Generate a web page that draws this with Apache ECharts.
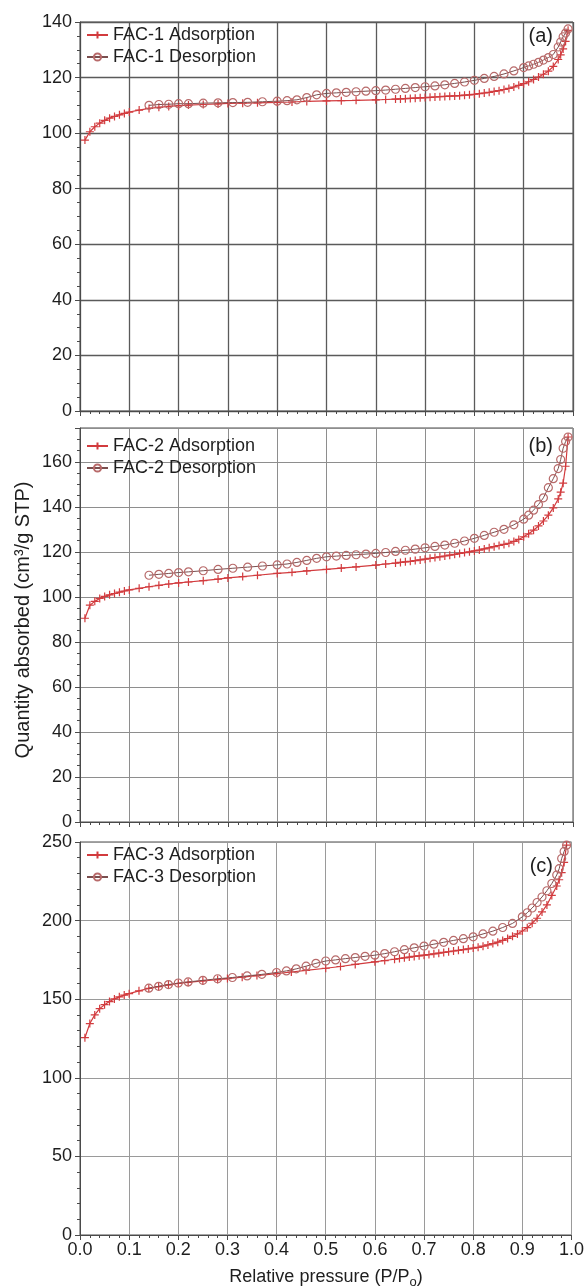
<!DOCTYPE html>
<html>
<head>
<meta charset="utf-8">
<script src="https://cdn.jsdelivr.net/npm/echarts@6/dist/echarts.min.js"></script>
<style>
  html, body { margin: 0; padding: 0; background: #ffffff; }
  #chart { width: 587px; height: 1287px; }
</style>
</head>
<body>
<div id="chart"></div>
<script>
// Relative pressures (P/Po) of the adsorption branch
const adsP = [0.01, 0.02, 0.03, 0.04, 0.05, 0.06, 0.07, 0.08, 0.09, 0.10,
  0.12, 0.14, 0.16, 0.18, 0.20, 0.22, 0.25, 0.28, 0.30, 0.33,
  0.36, 0.40, 0.43, 0.46, 0.50, 0.53, 0.56, 0.60, 0.62, 0.64,
  0.65, 0.66, 0.67, 0.68, 0.69, 0.70, 0.71, 0.72, 0.73, 0.74,
  0.75, 0.76, 0.77, 0.78, 0.79, 0.80, 0.81, 0.82, 0.83, 0.84,
  0.85, 0.86, 0.87, 0.88, 0.89, 0.90, 0.91, 0.92, 0.93, 0.94,
  0.95, 0.96, 0.97, 0.975, 0.98, 0.985, 0.99];

// Quantity adsorbed (cm3/g STP), adsorption branch
const adsFAC1 = [97.5, 100.5, 102.3, 103.6, 104.6, 105.4, 106.0, 106.6, 107.1, 107.6,
  108.3, 108.9, 109.3, 109.6, 109.9, 110.1, 110.3, 110.5, 110.7, 110.8,
  110.9, 111.1, 111.2, 111.4, 111.6, 111.7, 111.8, 112.0, 112.1, 112.25,
  112.3, 112.4, 112.5, 112.6, 112.7, 112.8, 112.9, 113.0, 113.1, 113.2,
  113.3, 113.4, 113.5, 113.65, 113.8, 114.0, 114.2, 114.45, 114.7, 115.0,
  115.3, 115.7, 116.1, 116.6, 117.2, 117.8, 118.5, 119.3, 120.2, 121.2,
  122.3, 124.0, 126.5, 128.2, 130.3, 133.0, 137.0];
const adsFAC2 = [90.5, 96.3, 98.0, 99.3, 100.2, 100.9, 101.5, 102.1, 102.6, 103.1,
  103.8, 104.5, 105.1, 105.7, 106.2, 106.6, 107.2, 107.9, 108.4, 109.0,
  109.6, 110.4, 110.9, 111.5, 112.2, 112.8, 113.3, 114.1, 114.6, 115.0,
  115.3, 115.55, 115.8, 116.1, 116.4, 116.75, 117.1, 117.45, 117.8, 118.15,
  118.5, 118.9, 119.3, 119.65, 120.0, 120.4, 120.8, 121.3, 121.8, 122.3,
  122.8, 123.3, 123.8, 124.6, 125.5, 126.7, 128.0, 129.6, 131.5, 133.7,
  136.3, 139.5, 143.5, 146.5, 150.5, 158.0, 171.0];
const adsFAC3 = [125.5, 134.5, 140.0, 144.0, 146.5, 148.5, 150.2, 151.5, 152.6, 153.5,
  155.3, 156.9, 158.0, 159.1, 160.0, 160.7, 161.6, 162.5, 163.1, 164.0,
  165.0, 166.3, 167.3, 168.3, 169.7, 170.8, 172.1, 173.8, 174.6, 175.4,
  175.9, 176.35, 176.8, 177.2, 177.6, 178.0, 178.4, 178.85, 179.3, 179.75,
  180.2, 180.65, 181.1, 181.55, 182.0, 182.5, 183.0, 183.7, 184.5, 185.4,
  186.3, 187.4, 188.6, 190.0, 191.5, 193.4, 195.5, 198.3, 201.5, 205.5,
  210.0, 216.0, 222.0, 226.0, 230.5, 237.0, 248.0];

// Relative pressures (P/Po) of the desorption branch
const desP = [0.14, 0.16, 0.18, 0.20, 0.22, 0.25, 0.28, 0.31, 0.34, 0.37,
  0.40, 0.42, 0.44, 0.46, 0.48, 0.50, 0.52, 0.54, 0.56, 0.58,
  0.60, 0.62, 0.64, 0.66, 0.68, 0.70, 0.72, 0.74, 0.76, 0.78,
  0.80, 0.82, 0.84, 0.86, 0.88, 0.90, 0.91, 0.92, 0.93, 0.94,
  0.95, 0.96, 0.97, 0.975, 0.98, 0.985, 0.99];

// Quantity adsorbed (cm3/g STP), desorption branch
const desFAC1 = [110.0, 110.3, 110.4, 110.6, 110.6, 110.8, 110.9, 111.0, 111.1, 111.3,
  111.5, 111.7, 112.0, 112.8, 113.8, 114.3, 114.5, 114.7, 114.9, 115.1,
  115.3, 115.5, 115.8, 116.1, 116.4, 116.7, 117.0, 117.4, 117.9, 118.4,
  119.0, 119.7, 120.4, 121.3, 122.4, 123.6, 124.2, 124.8, 125.5, 126.3,
  127.2, 128.3, 131.0, 132.8, 134.7, 136.0, 137.5];
const desFAC2 = [109.6, 110.0, 110.4, 110.8, 111.1, 111.6, 112.2, 112.7, 113.2, 113.7,
  114.2, 114.6, 115.3, 116.2, 117.1, 117.8, 118.1, 118.4, 118.7, 119.0,
  119.3, 119.7, 120.2, 120.7, 121.2, 121.8, 122.4, 123.0, 123.8, 124.8,
  126.0, 127.3, 128.7, 130.0, 132.0, 134.5, 136.3, 138.5, 141.0, 144.0,
  148.5, 152.5, 157.0, 161.0, 166.0, 169.0, 171.0];
const desFAC3 = [157.0, 158.2, 159.3, 160.3, 161.0, 162.0, 163.0, 163.8, 164.8, 165.8,
  167.0, 168.0, 169.3, 171.0, 172.8, 174.3, 175.0, 175.8, 176.5, 177.3,
  178.0, 179.0, 180.2, 181.5, 182.7, 183.8, 185.0, 186.2, 187.4, 188.5,
  189.7, 191.5, 193.3, 195.6, 198.2, 202.4, 205.0, 208.0, 211.5, 215.0,
  219.0, 223.6, 229.0, 233.0, 239.5, 244.0, 248.0];

const samples = ['FAC-1', 'FAC-2', 'FAC-3'];
const panelTags = ['(a)', '(b)', '(c)'];
const adsorption = [adsFAC1, adsFAC2, adsFAC3];
const desorption = [desFAC1, desFAC2, desFAC3];

// Y axis ranges per panel: [min, max, interval, minor splits]
const yRanges = [[0, 140, 20, 4], [0, 175, 20, 4], [0, 250, 50, 5]];

const FONT = '"Liberation Sans", Arial, sans-serif';
const ADS_COLOR = '#d23b3e';
const DES_LINE = '#7a4e4e';
const DES_MARK = '#b86a6a';
const TEXT = '#1e1e1e';

const grids = [
  { left: 80, top: 22, width: 493, height: 389 },
  { left: 80, top: 428, width: 493, height: 394 },
  { left: 80, top: 842, width: 493, height: 393 }
];
const gridLineColors = ['#5a5a5a', '#8e8e8e', '#9a9a9a'];
const legendTops = [26, 437, 846];
const tagTops = [36, 446, 866];

const pair = (xs, ys) => xs.map((x, i) => [x, ys[i]]);

const option = {
  animation: false,
  backgroundColor: '#ffffff',
  textStyle: { fontFamily: FONT },
  grid: grids.map(g => Object.assign({
    show: true, borderColor: '#4a4a4a', borderWidth: 1, backgroundColor: 'transparent'
  }, g)),
  xAxis: grids.map((g, i) => ({
    type: 'value', gridIndex: i, min: 0, max: 1, interval: 0.1,
    axisLine: { show: true, onZero: false, lineStyle: { color: '#4a4a4a', width: 1 } },
    axisTick: { show: true, inside: false, length: 5, lineStyle: { color: '#4a4a4a' } },
    minorTick: { show: true, splitNumber: 5, length: 3, lineStyle: { color: '#4a4a4a' } },
    splitLine: { show: true, lineStyle: { color: gridLineColors[i], width: i === 0 ? 1.3 : 1 } },
    axisLabel: {
      show: i === 2, fontSize: 18, color: TEXT, margin: 6, fontFamily: FONT,
      formatter: v => v.toFixed(1)
    }
  })),
  yAxis: grids.map((g, i) => ({
    type: 'value', gridIndex: i,
    min: yRanges[i][0], max: yRanges[i][1], interval: yRanges[i][2],
    axisLine: { show: true, lineStyle: { color: '#4a4a4a', width: 1 } },
    axisTick: { show: true, inside: false, length: 5, lineStyle: { color: '#4a4a4a' } },
    minorTick: { show: true, splitNumber: yRanges[i][3], length: 3, lineStyle: { color: '#4a4a4a' } },
    splitLine: { show: true, lineStyle: { color: gridLineColors[i], width: i === 0 ? 1.3 : 1 } },
    axisLabel: {
      fontSize: 18, color: TEXT, margin: 8, fontFamily: FONT,
      showMaxLabel: i !== 1
    }
  })),
  legend: samples.map((s, i) => ({
    data: [s + ' Adsorption', s + ' Desorption'],
    orient: 'vertical', left: 86, top: legendTops[i],
    itemWidth: 21, itemHeight: 9, itemGap: 4, padding: 0,
    textStyle: { fontSize: 18, color: TEXT, fontFamily: FONT, lineHeight: 18 }
  })),
  series: [],
  graphic: []
};

samples.forEach((s, i) => {
  option.series.push({
    name: s + ' Adsorption', type: 'line',
    xAxisIndex: i, yAxisIndex: i,
    data: pair(adsP, adsorption[i]),
    symbol: 'path://M0,5L10,5M5,0L5,10', symbolSize: 8,
    lineStyle: { color: ADS_COLOR, width: 1.2 },
    itemStyle: { color: 'transparent', borderColor: ADS_COLOR, borderWidth: 1.2 },
    z: 3
  });
  option.series.push({
    name: s + ' Desorption', type: 'line',
    xAxisIndex: i, yAxisIndex: i,
    data: pair(desP, desorption[i]),
    symbol: 'circle', symbolSize: 8,
    lineStyle: { color: DES_LINE, width: 1 },
    itemStyle: { color: 'transparent', borderColor: DES_MARK, borderWidth: 1.2 },
    z: 4
  });
  option.graphic.push({
    type: 'text', right: 587 - 553, top: tagTops[i] - 10,
    style: { text: panelTags[i], fontSize: 20, fill: TEXT, fontFamily: FONT }
  });
});

// Shared axis titles
option.graphic.push({
  type: 'text', x: 23, y: 620, rotation: Math.PI / 2,
  style: {
    text: 'Quantity absorbed (cm³/g STP)', fontSize: 20, fill: TEXT, fontFamily: FONT,
    textAlign: 'center', textVerticalAlign: 'middle'
  }
});
option.graphic.push({
  type: 'text', x: 326, y: 1266,
  style: {
    text: 'Relative pressure (P/P{sub|o})', fontSize: 18, fill: TEXT, fontFamily: FONT,
    textAlign: 'center', textVerticalAlign: 'top',
    rich: { sub: { fontSize: 13, fill: TEXT, fontFamily: FONT, padding: [10, 0, 0, 0] } }
  }
});

const chart = echarts.init(document.getElementById('chart'), null, { renderer: 'canvas' });
chart.setOption(option);
</script>
</body>
</html>
